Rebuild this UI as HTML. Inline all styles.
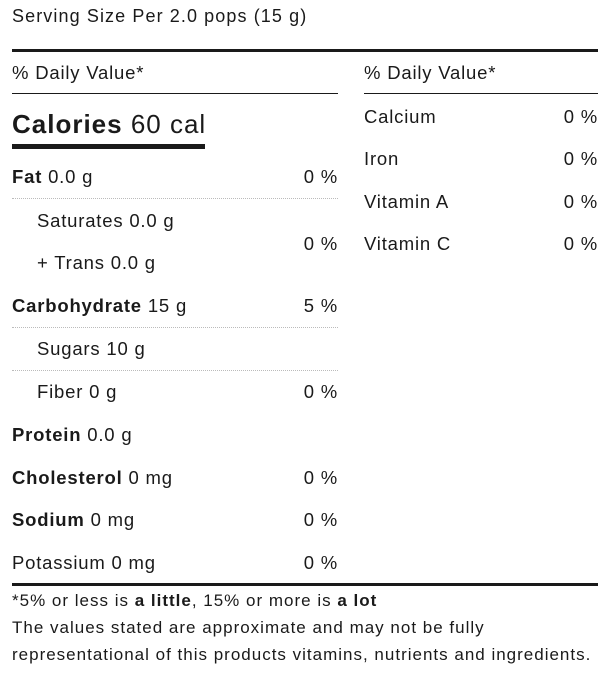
<!DOCTYPE html>
<html><head><style>
body{margin:0;width:607px;height:677px;background:#fff;font-family:"Liberation Sans",sans-serif;color:#1a1a1a;position:relative;overflow:hidden}
.t{position:absolute;white-space:nowrap;line-height:20px;font-size:18.5px;letter-spacing:0.8px}
.r{text-align:right;letter-spacing:0.8px}
.l{position:absolute;background:#1a1a1a}
.d{position:absolute;border-top:1px dotted #bbb;height:0}
b{font-weight:bold}
.f{font-size:17px;letter-spacing:1px}
</style></head><body>
<div class="t" style="left:12px;top:6px;font-size:18px;letter-spacing:1.1px">Serving Size Per 2.0 pops (15 g)</div>
<div class="l" style="left:12px;top:49px;width:586px;height:3px"></div>
<div class="t" style="left:12px;top:63px">% Daily Value*</div>
<div class="l" style="left:12px;top:93px;width:326px;height:1px"></div>
<div class="t" style="left:12px;top:110px;font-size:26px;line-height:28px;letter-spacing:1px"><b>Calories</b> 60 cal</div>
<div class="l" style="left:12px;top:144px;width:193px;height:5px"></div>

<div class="t" style="left:12px;top:167px"><b>Fat</b> 0.0 g</div>
<div class="t r" style="right:269px;top:167px">0 %</div>
<div class="d" style="left:12px;top:198px;width:326px"></div>
<div class="t" style="left:37px;top:211px">Saturates 0.0 g</div>
<div class="t r" style="right:269px;top:234px">0 %</div>
<div class="t" style="left:37px;top:253px">+ Trans 0.0 g</div>
<div class="t" style="left:12px;top:296px"><b>Carbohydrate</b> 15 g</div>
<div class="t r" style="right:269px;top:296px">5 %</div>
<div class="d" style="left:12px;top:327px;width:326px"></div>
<div class="t" style="left:37px;top:339px">Sugars 10 g</div>
<div class="d" style="left:12px;top:370px;width:326px"></div>
<div class="t" style="left:37px;top:382px">Fiber 0 g</div>
<div class="t r" style="right:269px;top:382px">0 %</div>
<div class="t" style="left:12px;top:425px"><b>Protein</b> 0.0 g</div>
<div class="t" style="left:12px;top:468px"><b>Cholesterol</b> 0 mg</div>
<div class="t r" style="right:269px;top:468px">0 %</div>
<div class="t" style="left:12px;top:510px"><b>Sodium</b> 0 mg</div>
<div class="t r" style="right:269px;top:510px">0 %</div>
<div class="t" style="left:12px;top:553px">Potassium 0 mg</div>
<div class="t r" style="right:269px;top:553px">0 %</div>
<div class="l" style="left:12px;top:583px;width:586px;height:3px"></div>
<div class="t f" style="left:12px;top:591px">*5% or less is <b>a little</b>, 15% or more is <b>a lot</b></div>
<div class="t f" style="left:12px;top:618px">The values stated are approximate and may not be fully</div>
<div class="t f" style="left:12px;top:645px">representational of this products vitamins, nutrients and ingredients.</div>

<div class="t" style="left:364px;top:63px">% Daily Value*</div>
<div class="l" style="left:364px;top:93px;width:234px;height:1px"></div>
<div class="t" style="left:364px;top:107px">Calcium</div>
<div class="t r" style="right:9px;top:107px">0 %</div>
<div class="t" style="left:364px;top:149px">Iron</div>
<div class="t r" style="right:9px;top:149px">0 %</div>
<div class="t" style="left:364px;top:192px">Vitamin A</div>
<div class="t r" style="right:9px;top:192px">0 %</div>
<div class="t" style="left:364px;top:234px">Vitamin C</div>
<div class="t r" style="right:9px;top:234px">0 %</div>
</body></html>
